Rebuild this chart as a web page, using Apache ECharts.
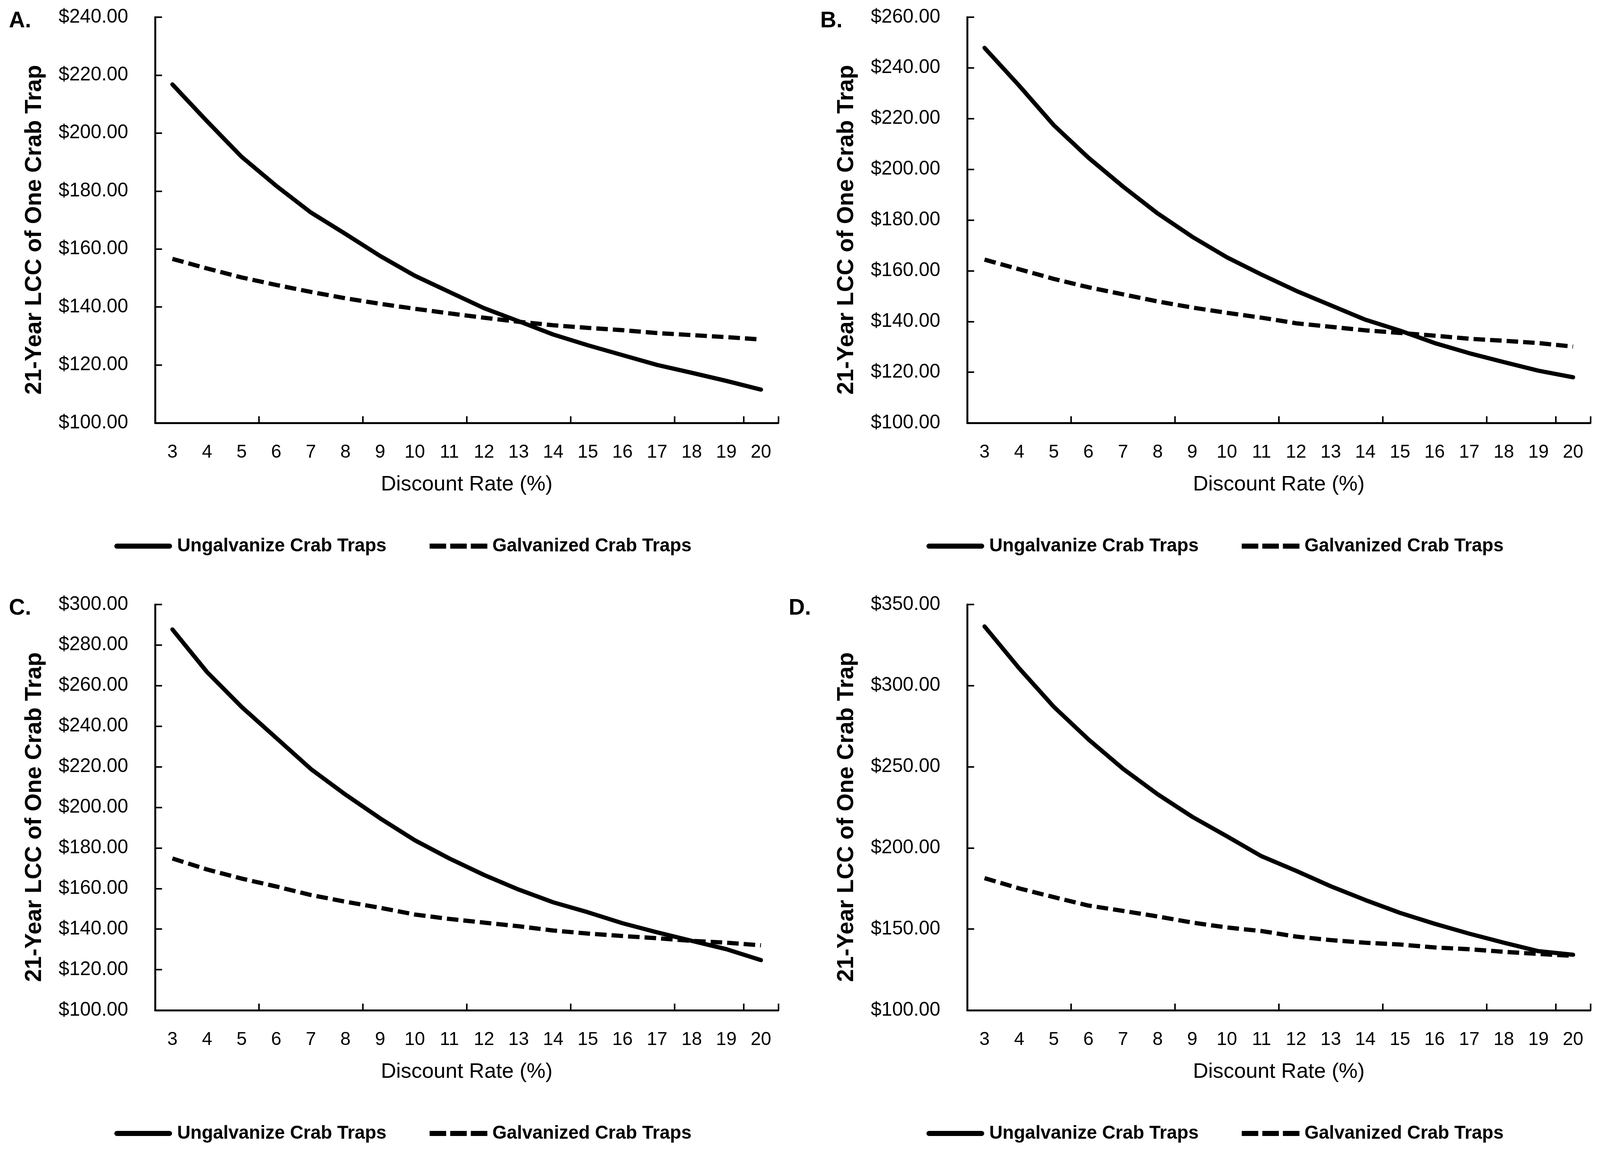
<!DOCTYPE html>
<html><head><meta charset="utf-8">
<script src="https://cdn.jsdelivr.net/npm/echarts@6/dist/echarts.min.js"></script>
<style>html,body{margin:0;padding:0;background:#fff;overflow:hidden}#c{width:100vw;height:100vh}</style>
</head><body><div id="c"></div>
<script>
const categories = ['3','4','5','6','7','8','9','10','11','12','13','14','15','16','17','18','19','20'];
const ungalvA = [216.8, 204.1, 191.8, 181.8, 172.6, 165.2, 157.6, 150.8, 145.2, 139.6, 135.1, 130.5, 126.8, 123.4, 120.0, 117.3, 114.5, 111.5];
const galvA   = [156.6, 153.3, 150.2, 147.6, 145.2, 143.0, 141.1, 139.4, 137.8, 136.3, 134.9, 133.7, 132.8, 132.0, 131.0, 130.3, 129.6, 128.8];
const ungalvB = [247.9, 233.0, 217.4, 204.6, 193.2, 182.6, 173.4, 165.3, 158.5, 152.1, 146.4, 140.7, 136.4, 131.5, 127.5, 124.0, 120.6, 118.0];
const galvB   = [164.4, 160.6, 156.8, 153.5, 150.7, 147.9, 145.5, 143.4, 141.5, 139.3, 137.9, 136.5, 135.5, 134.4, 133.2, 132.4, 131.5, 130.1];
const ungalvC = [287.7, 266.7, 249.5, 234.2, 218.9, 206.3, 194.6, 183.8, 174.8, 166.7, 159.5, 153.2, 148.3, 142.9, 138.4, 134.2, 130.1, 124.7];
const galvC   = [174.8, 169.4, 164.9, 161.0, 156.8, 153.5, 150.5, 147.2, 145.0, 143.2, 141.4, 139.3, 137.8, 136.6, 135.5, 134.2, 133.3, 132.0];
const ungalvD = [336.5, 310.7, 287.0, 266.9, 248.8, 233.1, 219.2, 207.2, 194.9, 185.9, 176.4, 167.9, 160.0, 153.3, 147.2, 141.6, 136.4, 134.2];
const galvD   = [181.4, 175.1, 169.7, 164.5, 161.2, 157.8, 154.0, 151.0, 148.8, 145.4, 143.2, 141.6, 140.5, 138.7, 137.6, 136.0, 134.7, 133.5];
const panelLetters = ['A.', 'B.', 'C.', 'D.'];
const yMins = [100, 100, 100, 100];
const yMaxs = [240, 260, 300, 350];
const yIntervals = [20, 20, 20, 50];
const xTitle = 'Discount Rate (%)';
const yTitle = '21-Year LCC of One Crab Trap';
const nameU = 'Ungalvanize Crab Traps';
const nameG = 'Galvanized Crab Traps';

const ungalv = [ungalvA, ungalvB, ungalvC, ungalvD];
const galv = [galvA, galvB, galvC, galvD];

// layout in reference pixels (4157 x 2950), scaled to the actual viewport
const el = document.getElementById('c');
const vw = el.clientWidth || window.innerWidth, vh = el.clientHeight || window.innerHeight;
const sx = vw / 4157, sy = vh / 2950, s = Math.min(sx, sy);
const X = v => v * sx, Y = v => v * sy, S = v => v * s;

const FONT = '"Liberation Sans", Arial, Helvetica, sans-serif';
const lefts = [403, 2513, 403, 2513];
const tops = [44, 44, 1548, 1548];
const W = 1619, H = 1039;
const letterLeft = [23, 2131, 23, 2049];

// legend icons (150 x 13 reference px)
const LW = 150, LH = 13;
const solidIcon = 'path://M6.5,0 H143.5 A6.5,6.5 0 0 1 143.5,13 H6.5 A6.5,6.5 0 0 1 6.5,0 Z';
const dashIcon = 'path://M0,0 H43 V13 H0 Z M53.5,0 H96.5 V13 H53.5 Z M107,0 H150 V13 H107 Z';

const chart = echarts.init(el, null, {renderer: 'canvas'});
const grid = [], xAxis = [], yAxis = [], series = [], legend = [], title = [];
for (let i = 0; i < 4; i++) {
  grid.push({left: X(lefts[i]), top: Y(tops[i]), width: X(W), height: Y(H), containLabel: false});
  xAxis.push({
    type: 'category', gridIndex: i, data: categories, boundaryGap: true,
    name: xTitle, nameLocation: 'middle', nameGap: Y(131),
    nameTextStyle: {fontFamily: FONT, fontSize: S(55), color: '#000'},
    axisLine: {lineStyle: {color: '#000', width: S(5)}},
    axisTick: {show: true, inside: true, length: Y(17), interval: 2, lineStyle: {color: '#000', width: S(4)}},
    axisLabel: {interval: 0, margin: Y(52), fontFamily: FONT, fontSize: S(48), color: '#000'},
    splitLine: {show: false}
  });
  yAxis.push({
    type: 'value', gridIndex: i, min: yMins[i], max: yMaxs[i], interval: yIntervals[i],
    name: yTitle, nameLocation: 'middle', nameRotate: 90, nameGap: X(283),
    nameTextStyle: {fontFamily: FONT, fontSize: S(60), fontWeight: 'bold', color: '#000',
      padding: [0, Y(50), 0, 0]},
    axisLine: {show: true, lineStyle: {color: '#000', width: S(5)}},
    axisTick: {show: true, inside: true, length: X(18), lineStyle: {color: '#000', width: S(4)}},
    axisLabel: {margin: X(70), fontFamily: FONT, fontSize: S(50), color: '#000',
      formatter: v => '$' + v.toFixed(2)},
    splitLine: {show: false}
  });
  series.push({
    name: nameU, type: 'line', xAxisIndex: i, yAxisIndex: i, data: ungalv[i],
    symbol: 'none', smooth: false,
    lineStyle: {color: '#000', width: S(11), cap: 'round', join: 'round'},
    itemStyle: {color: '#000'}
  });
  series.push({
    name: nameG, type: 'line', xAxisIndex: i, yAxisIndex: i, data: galv[i],
    symbol: 'none', smooth: false,
    lineStyle: {color: '#000', width: S(11), type: [S(30), S(13)], cap: 'butt'},
    itemStyle: {color: '#000'}
  });
  legend.push({
    data: [{name: nameU, icon: solidIcon}, {name: nameG, icon: dashIcon}],
    left: X(lefts[i] - 111), top: Y(tops[i] + 1326),
    itemWidth: X(LW), itemHeight: Y(LH), itemGap: X(112), selectedMode: false,
    itemStyle: {color: '#000', borderWidth: 0},
    textStyle: {fontFamily: FONT, fontSize: S(48), fontWeight: 'bold', color: '#000',
      padding: [0, 0, 0, X(8)]}
  });
  title.push({text: panelLetters[i], left: X(letterLeft[i]), top: Y(tops[i] - 18), padding: 0,
    textStyle: {fontFamily: FONT, fontSize: S(58), fontWeight: 'bold', color: '#000'}});
}
chart.setOption({backgroundColor: '#fff', animation: false, title, grid, xAxis, yAxis, series, legend});
</script>
</body></html>
